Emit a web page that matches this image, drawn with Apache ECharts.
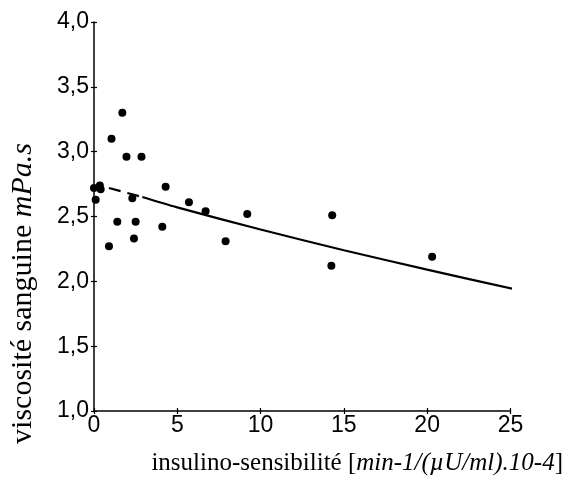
<!DOCTYPE html>
<html>
<head>
<meta charset="UTF-8" />
<title>viscosité / insulino-sensibilité</title>
<script src="https://cdn.jsdelivr.net/npm/echarts@6/dist/echarts.min.js"></script>
<style>
  html, body { margin: 0; padding: 0; background: #ffffff; }
  #chart { width: 566px; height: 484px; }
</style>
</head>
<body>
<div id="chart"></div>
<script>
// points
var sensX = [0, 0.1, 0.35, 0.4, 0.9, 1.05, 1.4, 1.7, 1.95, 2.3, 2.4, 2.5, 2.85,
             4.1, 4.3, 5.7, 6.7, 7.9, 9.2, 14.3, 14.25, 20.3];
var viscY = [2.72, 2.63, 2.74, 2.71, 2.27, 3.10, 2.46, 3.30, 2.96, 2.64, 2.33, 2.46, 2.96,
             2.42, 2.73, 2.61, 2.54, 2.31, 2.52, 2.51, 2.12, 2.19];

// courbe d'ajustement (partie en tirets puis partie pleine)
var fitDashX = [0.9, 2.9];
var fitDashY = [2.72, 2.65];
var fitX = [2.9, 5, 10, 15, 20, 25.2];
var fitY = [2.65, 2.57, 2.40, 2.24, 2.09, 1.94];

var xTicks = [0, 5, 10, 15, 20, 25];
var yTickLabels = ['1,0', '1,5', '2,0', '2,5', '3,0', '3,5', '4,0'];

function pairs(xs, ys) {
  var out = [];
  for (var i = 0; i < xs.length; i++) out.push([xs[i], ys[i]]);
  return out;
}

var tickFont = { color: '#000', fontFamily: 'Liberation Sans', fontSize: 23 };
var serif = 'Liberation Serif';

var chart = echarts.init(document.getElementById('chart'));
var option = {
  backgroundColor: '#ffffff',
  animation: false,
  grid: { left: 94, right: 53, top: 22, bottom: 73, containLabel: false },
  xAxis: [{
    type: 'value', min: 0, max: 25, interval: 5,
    splitLine: { show: false },
    axisLine: { lineStyle: { color: '#000', width: 1.5 } },
    axisTick: { length: 3, lineStyle: { color: '#000', width: 1.2 } },
    axisLabel: Object.assign({ margin: 3, formatter: function (v) { return String(xTicks[Math.round(v / 5)]); } }, tickFont),
    name: '{n|insulino-sensibilité [}{i|min-1/(µU/ml).10-4}{n|]}',
    nameLocation: 'middle', nameGap: 40,
    nameTextStyle: {
      padding: [0, 0, 0, 110],
      rich: {
        n: { fontFamily: serif, fontSize: 25, color: '#000' },
        i: { fontFamily: serif, fontSize: 25, fontStyle: 'italic', color: '#000' }
      }
    }
  }, {
    type: 'value', min: 0, max: 25, interval: 5, position: 'bottom',
    splitLine: { show: false }, axisLine: { show: false }, axisLabel: { show: false },
    axisTick: { inside: true, length: 3, lineStyle: { color: '#000', width: 1.2 } }
  }],
  yAxis: [{
    type: 'value', min: 1, max: 4, interval: 0.5,
    splitLine: { show: false },
    axisLine: { lineStyle: { color: '#000', width: 1.5 } },
    axisTick: { length: 3, lineStyle: { color: '#000', width: 1.2 } },
    axisLabel: Object.assign({ margin: 5, formatter: function (v) { return yTickLabels[Math.round((v - 1) * 2)]; } }, tickFont),
    name: '{n|viscosité sanguine }{i|mPa.s}',
    nameLocation: 'middle', nameGap: 56, nameRotate: 90,
    nameTextStyle: {
      padding: [0, 154, 0, 0],
      rich: {
        n: { fontFamily: serif, fontSize: 30, color: '#000' },
        i: { fontFamily: serif, fontSize: 30, fontStyle: 'italic', color: '#000' }
      }
    }
  }, {
    type: 'value', min: 1, max: 4, interval: 0.5, position: 'left',
    splitLine: { show: false }, axisLine: { show: false }, axisLabel: { show: false },
    axisTick: { inside: true, length: 3, lineStyle: { color: '#000', width: 1.2 } }
  }],
  series: [{
    type: 'line', xAxisIndex: 0, yAxisIndex: 0,
    data: pairs(fitDashX, fitDashY), symbol: 'none', silent: true,
    lineStyle: { color: '#000', width: 2.2, type: [12, 7] }
  }, {
    type: 'line', xAxisIndex: 0, yAxisIndex: 0,
    data: pairs(fitX, fitY), symbol: 'none', smooth: 0.3, silent: true,
    lineStyle: { color: '#000', width: 2.2 }
  }, {
    type: 'scatter', xAxisIndex: 0, yAxisIndex: 0,
    data: pairs(sensX, viscY), symbol: 'circle', symbolSize: 8,
    itemStyle: { color: '#000', opacity: 1 }
  }]
};
chart.setOption(option);
</script>
</body>
</html>
